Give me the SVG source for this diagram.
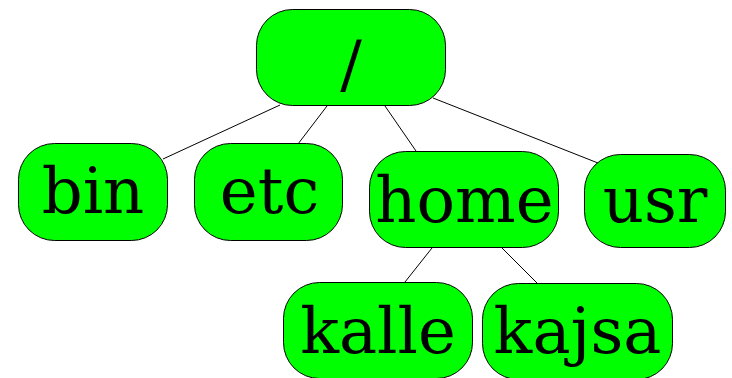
<svg xmlns="http://www.w3.org/2000/svg" width="732" height="378" viewBox="0 0 732 378">
<style>
.n rect{fill:#00ff00;stroke:#000;stroke-width:1}
.n text{font-family:"DejaVu Serif",serif;font-size:64px;text-anchor:middle;fill:#000}
.e line{stroke:#000;stroke-width:1}
</style>
<rect width="732" height="378" fill="#fff"/>
<g class="e" id="edges">
<line x1="280" y1="105" x2="163" y2="159"/>
<line x1="327" y1="106" x2="298" y2="144"/>
<line x1="385" y1="106" x2="416" y2="151"/>
<line x1="433" y1="98" x2="598" y2="163"/>
<line x1="432" y1="248" x2="405" y2="282"/>
<line x1="502" y1="248" x2="537" y2="283"/>
</g>
<g class="n" id="root"><rect x="256.5" y="9.5" width="189" height="96" rx="36"/><text x="351" y="86">/</text></g>
<g class="n" id="bin"><rect x="18.5" y="143.5" width="149" height="97" rx="36"/><text x="93" y="213">bin</text></g>
<g class="n" id="etc"><rect x="194.5" y="143.5" width="148" height="97" rx="36"/><text x="269.5" y="213">etc</text></g>
<g class="n" id="home"><rect x="369.5" y="151.5" width="189" height="96" rx="36"/><text x="464.5" y="222">home</text></g>
<g class="n" id="usr"><rect x="584.5" y="154.5" width="141" height="93" rx="36"/><text x="655" y="222">usr</text></g>
<g class="n" id="kalle"><rect x="283.5" y="282.5" width="189" height="96" rx="36"/><text x="378" y="353">kalle</text></g>
<g class="n" id="kajsa"><rect x="482.5" y="283.5" width="190" height="96" rx="36"/><text x="577.5" y="353">kajsa</text></g>
</svg>
